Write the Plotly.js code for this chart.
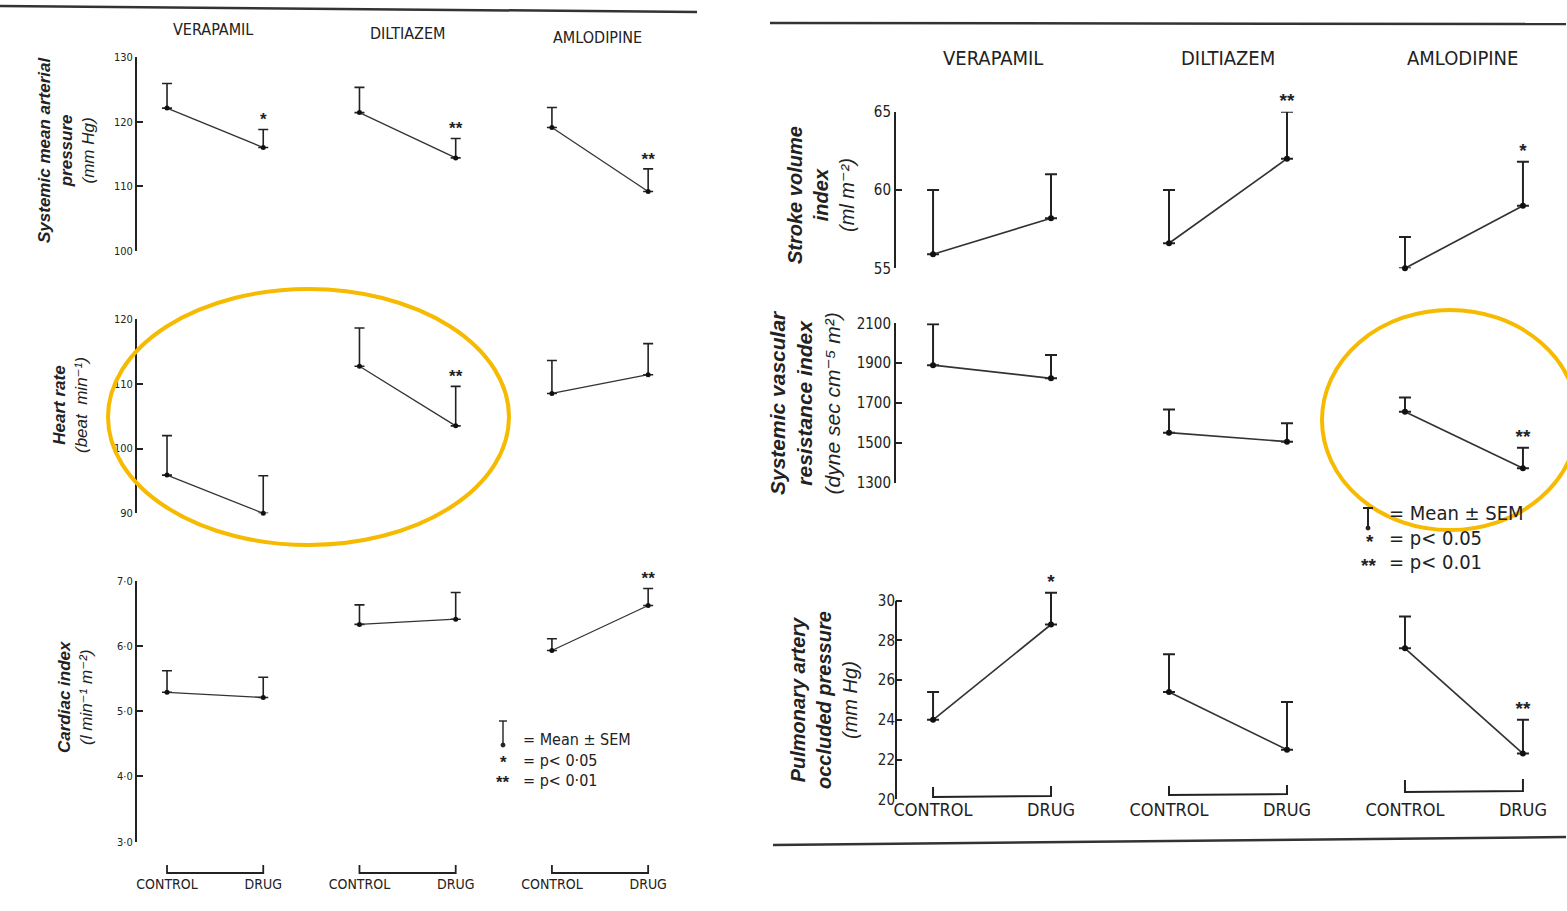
<!DOCTYPE html>
<html><head><meta charset="utf-8">
<script src="https://cdn.plot.ly/plotly-3.0.1.min.js"></script>
<style>html,body{margin:0;padding:0;background:#fff}#chart{width:1567px;height:911px}</style>
</head><body><div id="chart"></div>
<script>
// ---------- DATA ----------
const drugs = ['VERAPAMIL', 'DILTIAZEM', 'AMLODIPINE'];
const conditions = ['CONTROL', 'DRUG'];

// Left panel: systemic mean arterial pressure (mm Hg)
const smapMean = [122.1, 116.0, 121.4, 114.4, 119.1, 109.2];
const smapTop  = [125.9, 118.8, 125.3, 117.4, 122.2, 112.7];
const smapSig  = ['', '*', '', '**', '', '**'];
const smapTicks = [100, 110, 120, 130];

// Left panel: heart rate (beat/min)
const hrMean = [95.9, 90.0, 112.7, 103.5, 108.5, 111.4];
const hrTop  = [102.0, 95.8, 118.6, 109.6, 113.6, 116.2];
const hrSig  = ['', '', '', '**', '', ''];
const hrTicks = [90, 100, 110, 120];

// Left panel: cardiac index
const ciMean = [5.29, 5.21, 6.33, 6.41, 5.93, 6.62];
const ciTop  = [5.62, 5.52, 6.63, 6.82, 6.11, 6.88];
const ciSig  = ['', '', '', '', '', '**'];
const ciTicks = [3, 4, 5, 6, 7];
const ciTickText = ['3·0', '4·0', '5·0', '6·0', '7·0'];

// Right panel: stroke volume index
const sviMean = [55.9, 58.2, 56.6, 62.0, 55.0, 59.0];
const sviTop  = [60.0, 61.0, 60.0, 65.0, 57.0, 61.8];
const sviSig  = ['', '', '', '**', '', '*'];
const sviTicks = [55, 60, 65];

// Right panel: systemic vascular resistance index
const svriMean = [1890, 1824, 1551, 1506, 1656, 1372];
const svriTop  = [2095, 1941, 1668, 1598, 1727, 1476];
const svriSig  = ['', '', '', '', '', '**'];
const svriTicks = [1300, 1500, 1700, 1900, 2100];

// Right panel: pulmonary artery occluded pressure
const paopMean = [24.0, 28.8, 25.4, 22.5, 27.6, 22.3];
const paopTop  = [25.4, 30.4, 27.3, 24.9, 29.2, 24.0];
const paopSig  = ['', '*', '', '', '', '**'];
const paopTicks = [20, 22, 24, 26, 28, 30];

// ---------- LAYOUT HELPERS ----------
const W = 1567, H = 911;
const px = v => v / W;
const py = v => 1 - v / H;
const INK = '#222';
const NARROW = '"DejaVu Sans Condensed", "Liberation Sans Narrow", "Liberation Sans", Arial, sans-serif';
const SANS = '"Liberation Sans", Arial, "DejaVu Sans", sans-serif';

const xIdx = [];
drugs.forEach((d, g) => conditions.forEach((c, k) => xIdx.push(2 * g + k)));
const xTickText = [];
drugs.forEach(() => conditions.forEach(c => xTickText.push(c)));

const traces = [];
function addRow(mean, top, sig, xa, ya, lineW, markerSize, starSize) {
  drugs.forEach((d, g) => {
    const i0 = 2 * g, i1 = 2 * g + 1;
    traces.push({
      type: 'scatter', mode: 'lines+markers', xaxis: xa, yaxis: ya,
      x: [xIdx[i0], xIdx[i1]], y: [mean[i0], mean[i1]],
      line: {color: '#333', width: lineW},
      marker: {color: '#111', size: markerSize},
      error_y: {type: 'data', symmetric: false,
        array: [top[i0] - mean[i0], top[i1] - mean[i1]], arrayminus: [0, 0],
        color: INK, thickness: lineW + 0.3, width: xa === 'x' ? 5 : 6},
      cliponaxis: false, showlegend: false, hoverinfo: 'x+y', name: d
    });
  });
  const sx = [], sy = [], st = [];
  sig.forEach((s, i) => { if (s) { sx.push(xIdx[i]); sy.push(top[i]); st.push(s); } });
  traces.push({
    type: 'scatter', mode: 'text', xaxis: xa, yaxis: ya, x: sx, y: sy, text: st,
    textposition: 'top center', textfont: {family: SANS, size: starSize, color: INK, weight: 'bold'},
    cliponaxis: false, showlegend: false, hoverinfo: 'skip'
  });
}
addRow(smapMean, smapTop, smapSig, 'x', 'y', 1.3, 5, 17);
addRow(hrMean, hrTop, hrSig, 'x', 'y2', 1.3, 5, 17);
addRow(ciMean, ciTop, ciSig, 'x', 'y3', 1.3, 5, 17);
addRow(sviMean, sviTop, sviSig, 'x2', 'y4', 1.7, 6, 19);
addRow(svriMean, svriTop, svriSig, 'x2', 'y5', 1.7, 6, 19);
addRow(paopMean, paopTop, paopSig, 'x2', 'y6', 1.7, 6, 19);

function yax(domTopPx, domBotPx, range, tickvals, ticktext, anchor, fs, showline) {
  return {
    domain: [py(domBotPx), py(domTopPx)], range: range, anchor: anchor,
    tickvals: tickvals, ticktext: ticktext || tickvals.map(String),
    showline: showline !== false, linecolor: INK, linewidth: 2, mirror: false,
    ticks: 'inside', ticklen: 6, tickwidth: 2, tickcolor: INK,
    showgrid: false, zeroline: false, fixedrange: true,
    tickfont: {family: NARROW, size: fs, color: INK}
  };
}
function xax(domL, domR, range, posPx, fs) {
  return {
    domain: [px(domL), px(domR)], range: range, anchor: 'free', position: py(posPx),
    tickvals: xIdx, ticktext: xTickText, showline: false, ticks: '',
    showgrid: false, zeroline: false, fixedrange: true,
    tickfont: {family: NARROW, size: fs, color: INK}
  };
}

const shapes = [];
const annotations = [];
// brackets under groups (left panel)
drugs.forEach((d, g) => {
  shapes.push({type: 'path', xref: 'x', yref: 'paper',
    path: `M${2*g},${py(865)} L${2*g},${py(873)} L${2*g+1},${py(873)} L${2*g+1},${py(865)}`,
    line: {color: INK, width: 1.8}});
});
// right panel brackets (slightly tilted in the scan)
[[787, 797], [786, 795], [780, 792]].forEach((b, g) => {
  shapes.push({type: 'path', xref: 'x2', yref: 'paper',
    path: `M${2*g},${py(b[0])} L${2*g},${py(b[1])} L${2*g+1},${py(b[1]-1)} L${2*g+1},${py(b[0]-1)}`,
    line: {color: INK, width: 2}});
});
// y-axis line for the PAOP row drawn only over 20-30 (the axis range is extended to keep the star visible)
shapes.push({type: 'line', xref: 'x2 domain', yref: 'y6', x0: 0, x1: 0, y0: paopTicks[0], y1: paopTicks[paopTicks.length - 1],
  line: {color: INK, width: 2}});
// horizontal rules
shapes.push({type: 'line', xref: 'paper', yref: 'paper', x0: 0, x1: px(697), y0: py(6), y1: py(12), line: {color: '#333', width: 2.5}});
shapes.push({type: 'line', xref: 'paper', yref: 'paper', x0: px(770), x1: px(1566), y0: py(23), y1: py(24), line: {color: '#333', width: 2.5}});
shapes.push({type: 'line', xref: 'paper', yref: 'paper', x0: px(773), x1: px(1566), y0: py(845), y1: py(837), line: {color: '#333', width: 2.5}});
// highlight ellipses
shapes.push({type: 'circle', xref: 'paper', yref: 'paper', x0: px(108), x1: px(509), y0: py(545), y1: py(289), line: {color: '#F6BA00', width: 4}});
shapes.push({type: 'circle', xref: 'paper', yref: 'paper', x0: px(1322), x1: px(1578), y0: py(530), y1: py(310), line: {color: '#F6BA00', width: 4}});
// legend symbols (mean ± SEM glyph)
function semGlyph(x, yTop, yBot, hw, w) {
  shapes.push({type: 'line', xref: 'paper', yref: 'paper', x0: px(x), x1: px(x), y0: py(yTop), y1: py(yBot), line: {color: INK, width: w}});
  shapes.push({type: 'line', xref: 'paper', yref: 'paper', x0: px(x - hw), x1: px(x + hw), y0: py(yTop), y1: py(yTop), line: {color: INK, width: w}});
  shapes.push({type: 'circle', xref: 'paper', yref: 'paper', x0: px(x - 2), x1: px(x + 2), y0: py(yBot + 2), y1: py(yBot - 2), fillcolor: INK, line: {color: INK, width: 1}});
}
semGlyph(503, 721, 745, 4, 1.4);
semGlyph(1368, 508, 528, 5, 2);

function txt(x, y, text, size, family, xanchor, extra) {
  annotations.push(Object.assign({xref: 'paper', yref: 'paper', x: px(x), y: py(y), text: text,
    showarrow: false, xanchor: xanchor || 'center', yanchor: 'middle',
    font: {family: family || NARROW, size: size, color: INK}}, extra || {}));
}
// column headers
const leftHdr = [[213, 30], [407, 34], [597, 37]];
const rightHdr = [[993, 58], [1228, 58], [1462, 58]];
drugs.forEach((d, g) => {
  txt(leftHdr[g][0], leftHdr[g][1], d, 16);
  txt(rightHdr[g][0], rightHdr[g][1], d, 20);
});
// y-axis titles (rotated)
const rot = {textangle: -90};
txt(66, 150, '<b><i>Systemic mean arterial</i></b><br><b><i>pressure</i></b><br><i>(mm Hg)</i>', 17, SANS, 'center', rot);
txt(70, 405, '<b><i>Heart rate</i></b><br><i>(beat  min⁻¹)</i>', 17, SANS, 'center', rot);
txt(75, 697, '<b><i>Cardiac index</i></b><br><i>(l min⁻¹ m⁻²)</i>', 17, SANS, 'center', rot);
txt(821, 195, '<b><i>Stroke volume</i></b><br><b><i>index</i></b><br><i>(ml m⁻²)</i>', 20, SANS, 'center', rot);
txt(805, 403, '<b><i>Systemic vascular</i></b><br><b><i>resistance index</i></b><br><i>(dyne sec cm⁻⁵ m²)</i>', 21, SANS, 'center', rot);
txt(824, 700, '<b><i>Pulmonary artery</i></b><br><b><i>occluded pressure</i></b><br><i>(mm Hg)</i>', 20, SANS, 'center', rot);
// legends
txt(521, 739, '= Mean ± SEM', 16, NARROW, 'left');
txt(503, 762, '<b>*</b>', 17, SANS, 'center');
txt(521, 760, '= p< 0·05', 16, NARROW, 'left');
txt(503, 782, '<b>**</b>', 17, SANS, 'center');
txt(521, 780, '= p< 0·01', 16, NARROW, 'left');
txt(1387, 513, '= Mean ± SEM', 20, NARROW, 'left');
txt(1370, 541, '<b>*</b>', 19, SANS, 'center');
txt(1387, 538, '= p< 0.05', 20, NARROW, 'left');
txt(1368, 565, '<b>**</b>', 19, SANS, 'center');
txt(1387, 562, '= p< 0.01', 20, NARROW, 'left');

// PAOP row: 20-30 occupies 600.7..799.3 px; range extended by 1 unit on top
const paopPxPerUnit = (799.3 - 600.7) / 10;
const layout = {
  width: W, height: H, margin: {l: 0, r: 0, t: 0, b: 0},
  paper_bgcolor: '#fff', plot_bgcolor: 'rgba(0,0,0,0)', showlegend: false,
  xaxis: xax(137, 680, [-0.312, 5.331], 874, 14),
  xaxis2: xax(896, 1560, [-0.314, 5.314], 797, 18),
  yaxis: yax(57, 251, [100, 130], smapTicks, null, 'x', 11),
  yaxis2: yax(319, 513.3, [90, 120], hrTicks, null, 'x', 11),
  yaxis3: yax(580.7, 841.7, [3, 7], ciTicks, ciTickText, 'x', 11),
  yaxis4: yax(111.7, 268.3, [55, 65], sviTicks, null, 'x2', 15),
  yaxis5: yax(323.3, 482.7, [1300, 2100], svriTicks, null, 'x2', 15),
  yaxis6: yax(600.7 - paopPxPerUnit, 799.3, [20, 31], paopTicks, null, 'x2', 15, false),
  shapes: shapes, annotations: annotations
};
Plotly.newPlot('chart', traces, layout, {displayModeBar: false, staticPlot: true});
</script></body></html>
